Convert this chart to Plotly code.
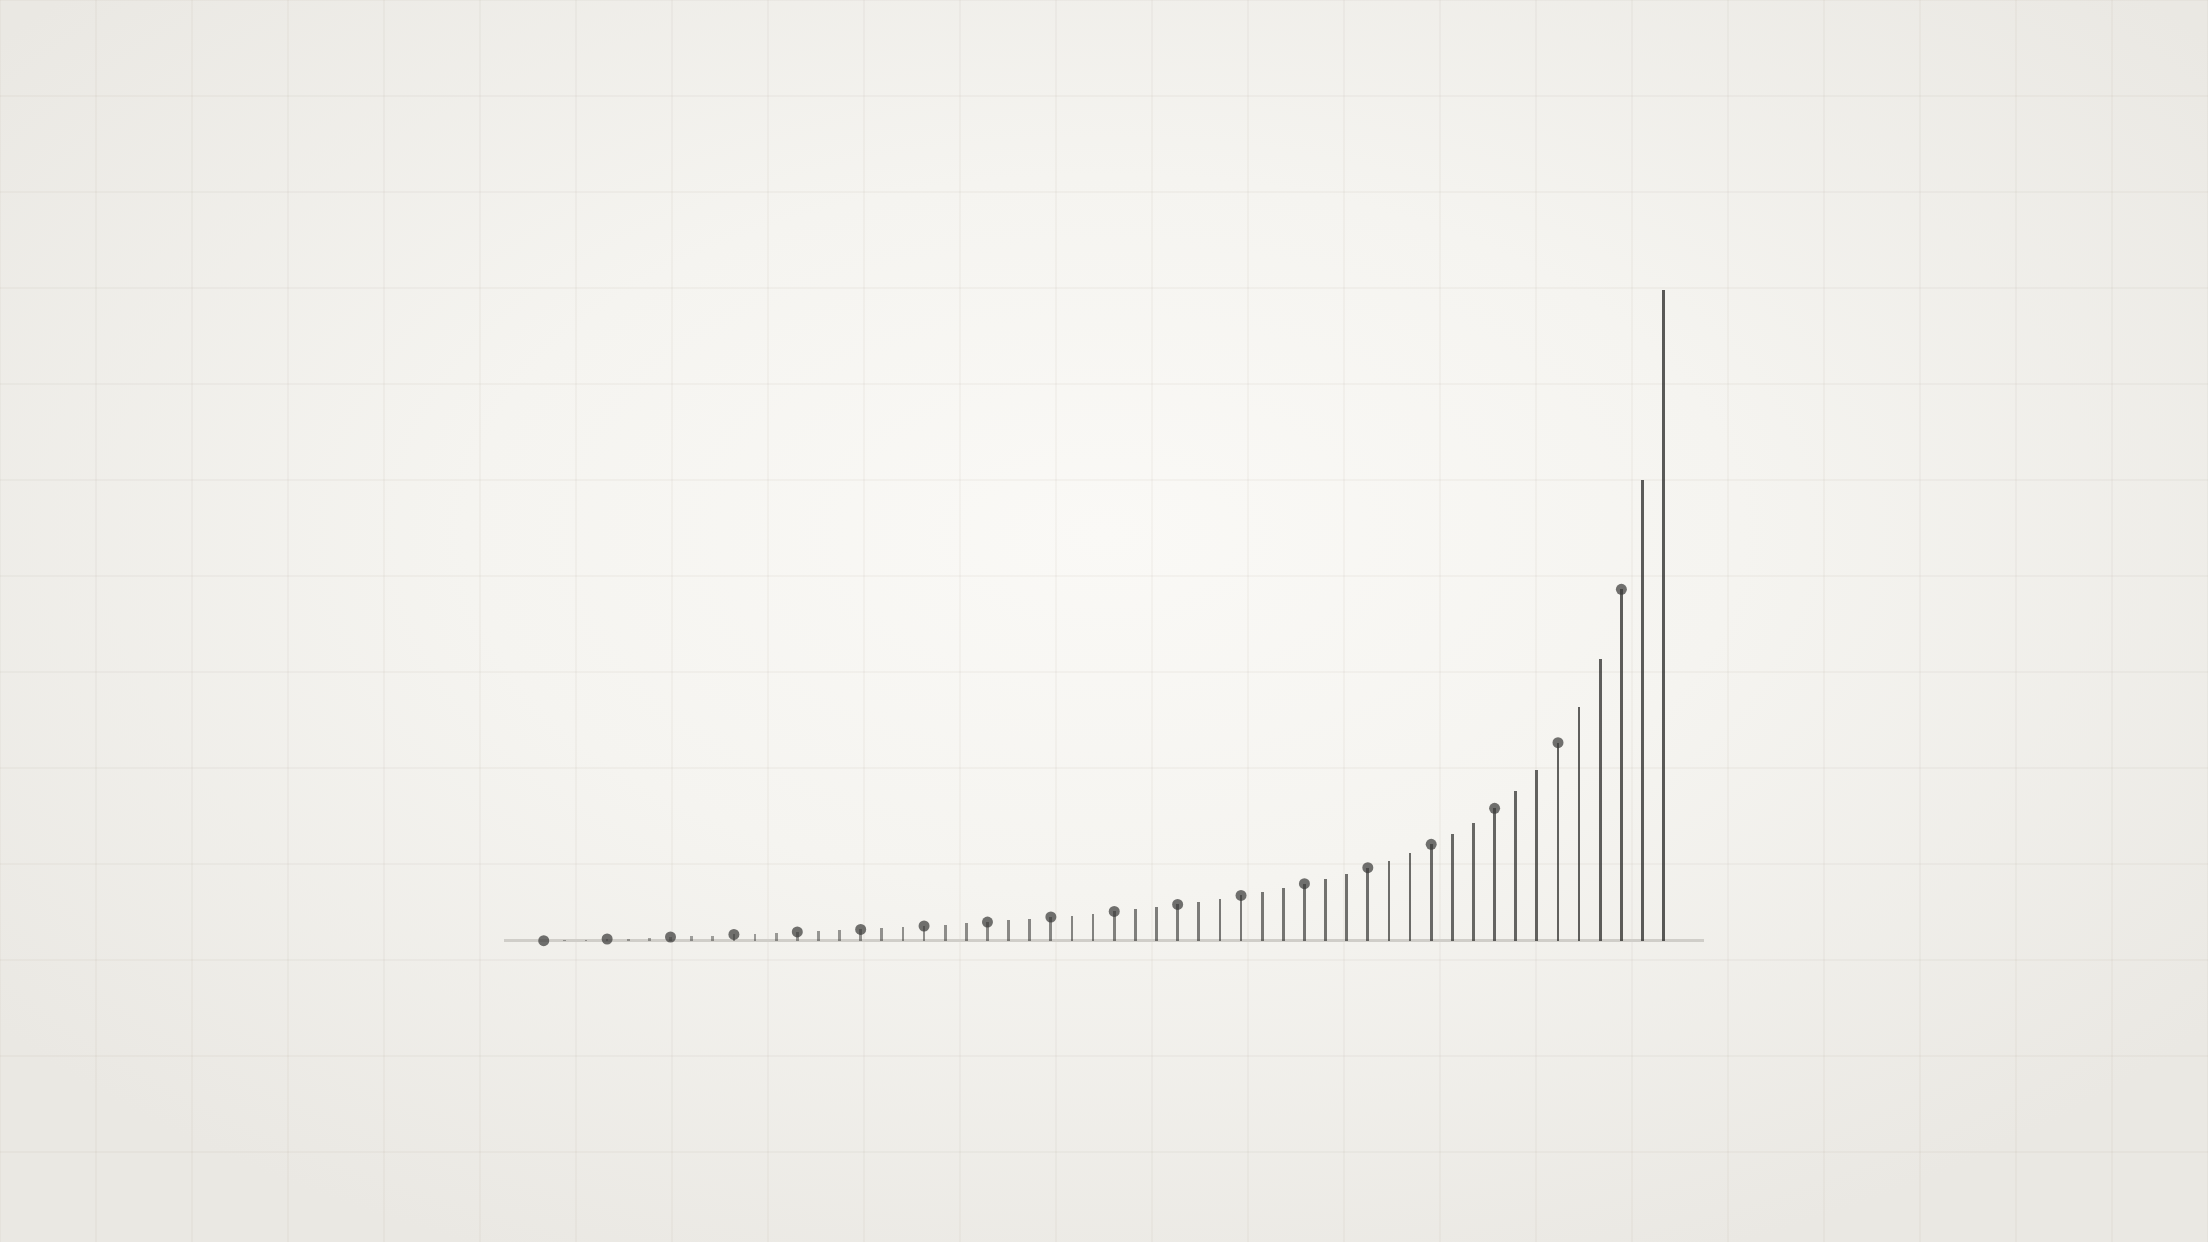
import base64
import plotly.graph_objects as go

# stem index and heights (max stem = 100)
steps = list(range(54))
heights = [
    0.0, 0.11, 0.15, 0.26, 0.31, 0.41, 0.57, 0.66, 0.77, 0.97,
    1.08, 1.18, 1.34, 1.43, 1.58, 1.74, 1.89, 2.11, 2.26, 2.41,
    2.66, 2.87, 3.12, 3.33, 3.64, 3.84, 4.15, 4.50, 4.81, 5.18,
    5.58, 5.99, 6.45, 6.96, 7.53, 8.10, 8.76, 9.44, 10.25, 11.22,
    12.20, 13.43, 14.81, 16.35, 18.13, 20.35, 22.96, 26.28, 30.43, 35.87,
    43.25, 54.00, 70.80, 100.0,
]
# every third stem carries a dot
dot_steps = steps[::3]
dot_heights = heights[::3]

W, H = 2208, 1242
ML, MR, MT, MB = 504, 504, 240, 282
PW, PH = W - ML - MR, H - MT - MB


# background: warm radial vignette plus a faint square grid, as an inline svg
def background_svg():
    lines = []
    for gx in range(0, W + 1, 96):
        lines.append(f'<line x1="{gx}" y1="0" x2="{gx}" y2="{H}"/>')
    for gy in range(0, H + 1, 96):
        lines.append(f'<line x1="0" y1="{gy}" x2="{W}" y2="{gy}"/>')
    svg = (
        f'<svg xmlns="http://www.w3.org/2000/svg" width="{W}" height="{H}" '
        f'viewBox="0 0 {W} {H}" preserveAspectRatio="none">'
        '<defs><radialGradient id="g" cx="50%" cy="43%" r="64%" '
        'gradientUnits="objectBoundingBox">'
        '<stop offset="0" stop-color="#faf9f6"/>'
        '<stop offset="0.45" stop-color="#f5f4f0"/>'
        '<stop offset="1" stop-color="#eae8e3"/>'
        '</radialGradient></defs>'
        f'<rect width="{W}" height="{H}" fill="url(#g)"/>'
        '<g stroke="#8a7f70" stroke-opacity="0.055" stroke-width="2">'
        + "".join(lines) + '</g></svg>'
    )
    return "data:image/svg+xml;base64," + base64.b64encode(svg.encode()).decode()


# stems get darker towards the right
n = len(steps)
stem_colors = [
    f"rgba(40,40,38,{0.36 + 0.4 * i / (n - 1):.3f})" for i in range(n)
]

fig = go.Figure()

fig.add_trace(go.Scatter(
    x=dot_steps,
    y=dot_heights,
    mode="markers",
    marker=dict(size=11, color="rgba(60,60,58,0.72)", line=dict(width=0)),
    hoverinfo="skip",
))

fig.add_trace(go.Bar(
    x=steps,
    y=heights,
    width=0.13,
    marker=dict(color=stem_colors, line=dict(width=0)),
    hoverinfo="skip",
))

px_per_unit = 650.7 / 100.0
y_bottom = -(MT + PH - 940.7) / px_per_unit
y_top = (940.7 - MT) / px_per_unit

fig.update_layout(
    width=W,
    height=H,
    margin=dict(l=ML, r=MR, t=MT, b=MB, pad=0),
    paper_bgcolor="#f1f0ec",
    plot_bgcolor="rgba(0,0,0,0)",
    showlegend=False,
    bargap=0,
    xaxis=dict(
        range=[-1.88, 54.91],
        showgrid=False, zeroline=False, showticklabels=False,
        ticks="", showline=False, fixedrange=True,
    ),
    yaxis=dict(
        range=[y_bottom, y_top],
        showgrid=False, showticklabels=False, ticks="",
        showline=False, fixedrange=True,
        zeroline=True, zerolinecolor="#d0cec9", zerolinewidth=2.5,
    ),
    images=[dict(
        source=background_svg(),
        xref="paper", yref="paper",
        x=-ML / PW, y=1 + MT / PH,
        sizex=W / PW, sizey=H / PH,
        xanchor="left", yanchor="top",
        sizing="stretch", layer="below",
    )],
)

fig.write_html(
    "out.html",
    config={"displayModeBar": False},
    post_script="document.body.style.margin='0';document.body.style.overflow='hidden';",
)
